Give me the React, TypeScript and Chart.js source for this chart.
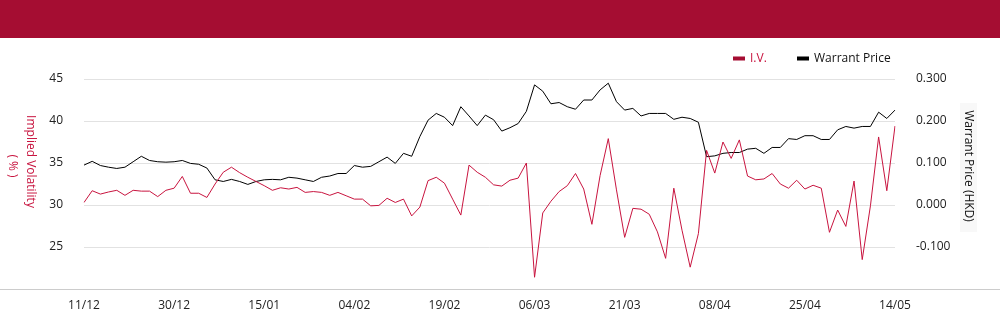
import React, { useEffect, useRef } from "react";
import { Chart, registerables } from "chart.js";

Chart.register(...registerables);

const DATES = ['11/12','12/12','13/12','16/12','17/12','18/12','19/12','20/12','23/12','24/12','27/12','30/12','31/12',
'02/01','03/01','06/01','07/01','08/01','09/01','10/01','13/01','14/01','15/01','16/01','17/01','20/01','21/01','22/01','23/01','24/01','27/01','28/01',
'03/02','04/02','05/02','06/02','07/02','10/02','11/02','12/02','13/02','14/02','17/02','18/02','19/02','20/02','21/02','24/02','25/02','26/02','27/02','28/02',
'03/03','04/03','05/03','06/03','07/03','10/03','11/03','12/03','13/03','14/03','17/03','18/03','19/03','20/03','21/03','24/03','25/03','26/03','27/03','28/03','31/03',
'01/04','02/04','03/04','07/04','08/04','09/04','10/04','11/04','14/04','15/04','16/04','17/04','22/04','23/04','24/04','25/04','28/04','29/04','30/04',
'02/05','06/05','07/05','08/05','09/05','12/05','13/05','14/05'];

const IV = [30.3,31.7,31.3,31.55,31.75,31.15,31.75,31.65,31.65,31.0,31.75,32.0,33.4,31.4,31.4,30.9,32.5,33.9,34.5,33.85,
33.3,32.8,32.3,31.75,32.05,31.9,32.1,31.5,31.6,31.5,31.15,31.5,31.1,30.7,30.7,29.9,29.95,30.8,30.3,30.7,
28.7,29.75,32.9,33.3,32.6,30.7,28.8,34.75,33.9,33.3,32.4,32.25,32.95,33.2,35.0,21.4,29.05,30.45,31.6,32.3,
33.75,31.9,27.7,33.5,37.9,31.8,26.15,29.6,29.5,28.9,26.8,23.65,32.0,27.0,22.6,26.6,36.5,33.8,37.5,35.55,
37.75,33.45,33.0,33.1,33.75,32.5,32.0,32.95,31.9,32.35,32.0,26.75,29.4,27.45,32.85,23.5,29.9,38.1,31.7,39.4];

const PRICE = [0.095,0.104,0.094,0.090,0.087,0.090,0.103,0.116,0.106,0.103,0.102,0.103,0.106,0.099,0.097,0.088,0.060,0.056,0.061,0.056,
0.049,0.056,0.060,0.061,0.060,0.066,0.064,0.060,0.056,0.066,0.069,0.075,0.075,0.094,0.090,0.092,0.103,0.114,0.099,0.123,
0.116,0.163,0.202,0.218,0.209,0.189,0.234,0.212,0.189,0.214,0.203,0.176,0.184,0.194,0.223,0.286,0.271,0.241,0.244,0.234,
0.228,0.250,0.250,0.274,0.290,0.246,0.226,0.230,0.212,0.218,0.218,0.218,0.204,0.209,0.206,0.197,0.115,0.117,0.123,0.125,
0.125,0.133,0.135,0.123,0.137,0.137,0.158,0.156,0.165,0.165,0.156,0.156,0.179,0.187,0.183,0.187,0.187,0.221,0.206,0.226];

const IV_TICKS_MIN = 20;
const IV_TICKS_MAX = 45;
const PRICE_TICKS_MIN = -0.2;
const PRICE_TICKS_MAX = 0.3;

const SERIES_NAMES = ["I.V.", "Warrant Price"];
const LEFT_TITLE = ["Implied Volatility", "( % )"];
const RIGHT_TITLE = "Warrant Price (HKD)";

const RED = "#C8143F";
const BAR = "#A50D32";
const FONT = "'Open Sans', 'Noto Sans', sans-serif";
const HEADER_H = 38;

const decorPlugin = {
  id: "decor",
  afterDraw(chart: any) {
    const ctx = chart.ctx as CanvasRenderingContext2D;
    const ca = chart.chartArea;
    ctx.save();
    // full width baseline
    ctx.strokeStyle = "#cccccc";
    ctx.lineWidth = 1;
    ctx.beginPath();
    ctx.moveTo(0, Math.round(ca.bottom) + 0.5);
    ctx.lineTo(chart.width, Math.round(ca.bottom) + 0.5);
    ctx.stroke();

    ctx.font = `12px ${FONT}`;
    ctx.textBaseline = "middle";
    ctx.textAlign = "left";
    // legend
    const ly = 58.5 - HEADER_H;
    ctx.fillStyle = BAR;
    ctx.fillRect(733, ly - 2, 12, 4);
    ctx.fillStyle = RED;
    ctx.fillText(SERIES_NAMES[0], 750, ly);
    ctx.fillStyle = "#000";
    ctx.fillRect(797, ly - 2, 12, 4);
    ctx.fillStyle = "#111";
    ctx.fillText(SERIES_NAMES[1], 814, ly);

    // left title (rotated clockwise)
    ctx.textAlign = "center";
    ctx.fillStyle = RED;
    ctx.save();
    ctx.translate(30, 161.5 - HEADER_H);
    ctx.rotate(Math.PI / 2);
    ctx.fillText(LEFT_TITLE[0], 0, 0);
    ctx.restore();
    ctx.save();
    ctx.translate(12, 166 - HEADER_H);
    ctx.rotate(Math.PI / 2);
    ctx.fillText(LEFT_TITLE[1], 0, 0);
    ctx.restore();

    // right title
    ctx.fillStyle = "#f8f8f8";
    ctx.fillRect(960, 103 - HEADER_H, 17, 129);
    ctx.fillStyle = "#111";
    ctx.save();
    ctx.translate(968.5, 166 - HEADER_H);
    ctx.rotate(Math.PI / 2);
    ctx.fillText(RIGHT_TITLE, 0, 0);
    ctx.restore();
    ctx.restore();
  },
};

export default function App() {
  const ref = useRef<HTMLCanvasElement | null>(null);
  useEffect(() => {
    document.body.style.margin = "0";
    if (!ref.current) return;
    const chart = new Chart(ref.current, {
      type: "line",
      data: {
        labels: DATES,
        datasets: [
          {
            label: SERIES_NAMES[0],
            data: IV,
            yAxisID: "y",
            borderColor: RED,
            backgroundColor: RED,
            borderWidth: 1,
            pointRadius: 0,
            tension: 0,
          },
          {
            label: SERIES_NAMES[1],
            data: PRICE,
            yAxisID: "y1",
            borderColor: "#000",
            backgroundColor: "#000",
            borderWidth: 1,
            pointRadius: 0,
            tension: 0,
          },
        ],
      },
      options: {
        responsive: false,
        animation: false,
        layout: { padding: { top: 41, left: 0, right: 0, bottom: 0 } },
        plugins: { legend: { display: false }, tooltip: { enabled: false } },
        scales: {
          x: {
            offset: false,
            grid: { display: false, drawTicks: false },
            border: { display: false },
            afterFit: (s: any) => { s.height = 35; },
            ticks: {
              autoSkip: false,
              maxRotation: 0,
              minRotation: 0,
              padding: 9,
              color: "#222",
              font: { size: 12, family: FONT },
              callback: (_v: any, i: number) => (i % 11 === 0 ? DATES[i] : ""),
            },
          },
          y: {
            position: "left",
            min: IV_TICKS_MIN,
            max: IV_TICKS_MAX,
            afterFit: (s: any) => { s.width = 84; },
            grid: { color: "#e2e2e2", drawTicks: false },
            border: { display: false },
            ticks: {
              stepSize: 5,
              padding: 21,
              color: "#222",
              font: { size: 12, family: FONT },
              callback: (v: any) => (Number(v) <= IV_TICKS_MIN ? "" : String(v)),
            },
          },
          y1: {
            position: "right",
            min: PRICE_TICKS_MIN,
            max: PRICE_TICKS_MAX,
            afterFit: (s: any) => { s.width = 105; },
            grid: { display: false, drawTicks: false },
            border: { display: false },
            ticks: {
              stepSize: 0.1,
              padding: 21,
              color: "#222",
              font: { size: 12, family: FONT },
              callback: (v: any) => (Number(v) <= PRICE_TICKS_MIN + 1e-9 ? "" : Number(v).toFixed(3)),
            },
          },
        },
      },
      plugins: [decorPlugin],
    });
    return () => chart.destroy();
  }, []);

  return (
    <div style={{ position: "absolute", left: 0, top: 0, width: 1000, height: 324, background: "#fff" }}>
      <div style={{ height: HEADER_H, background: BAR }} />
      <canvas ref={ref} width={1000} height={324 - HEADER_H} style={{ display: "block", width: 1000, height: 324 - HEADER_H }} />
    </div>
  );
}
